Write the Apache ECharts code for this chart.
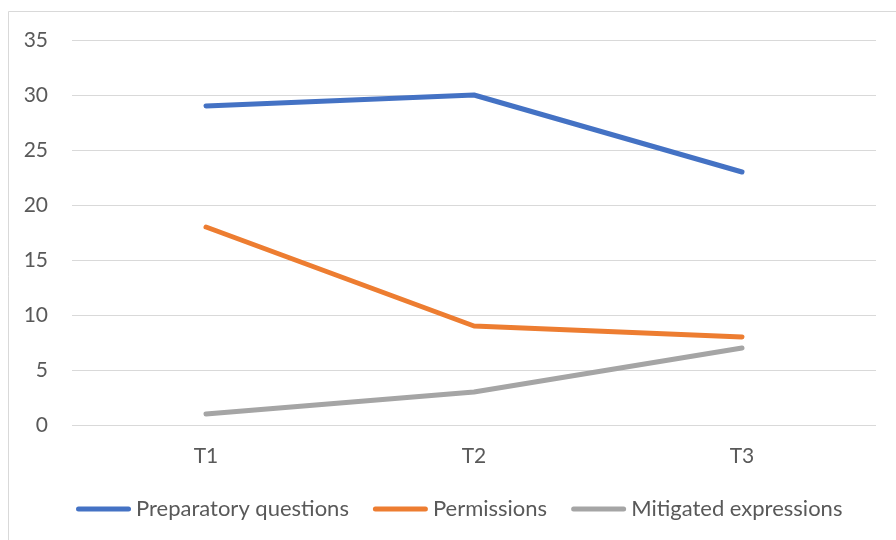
<!DOCTYPE html>
<html>
<head>
<meta charset="utf-8">
<script src="https://cdn.jsdelivr.net/npm/echarts@6/dist/echarts.min.js"></script>
<style>
  html, body { margin: 0; padding: 0; background: #fff; }
  #chart { width: 896px; height: 540px; }
</style>
</head>
<body>
<div id="chart"></div>
<script>
const categories = ['T1', 'T2', 'T3'];
const preparatoryQuestions = [29, 30, 23];
const permissions = [18, 9, 8];
const mitigatedExpressions = [1, 3, 7];
const seriesNames = ['Preparatory questions', 'Permissions', 'Mitigated expressions'];
const seriesColors = ['#4472C4', '#ED7D31', '#A5A5A5'];

const font = 'Lato, "Open Sans", sans-serif';
const textColor = '#595959';

function lineSeries(name, data, color) {
  return {
    name: name,
    type: 'line',
    data: data,
    symbol: 'none',
    color: color,
    lineStyle: { width: 5, color: color, cap: 'round', join: 'round' }
  };
}

const chart = echarts.init(document.getElementById('chart'), null, { renderer: 'canvas' });
chart.setOption({
  animation: false,
  backgroundColor: '#fff',
  graphic: [{
    type: 'rect',
    shape: { x: 8.5, y: 11.5, width: 900, height: 540 },
    style: { fill: 'none', stroke: '#D9D9D9', lineWidth: 1 },
    silent: true
  }],
  grid: { left: 72, right: 20, top: 40, bottom: 115, containLabel: false },
  xAxis: {
    type: 'category',
    data: categories,
    boundaryGap: true,
    axisLine: { show: false },
    axisTick: { show: false },
    axisLabel: { color: textColor, fontFamily: font, fontSize: 21, margin: 21 }
  },
  yAxis: {
    type: 'value',
    min: 0,
    max: 35,
    interval: 5,
    axisLine: { show: false },
    axisTick: { show: false },
    splitLine: { lineStyle: { color: '#D9D9D9', width: 1 } },
    axisLabel: { color: textColor, fontFamily: font, fontSize: 21, margin: 24 }
  },
  legend: {
    bottom: 20,
    left: 76,
    padding: 0,
    itemWidth: 55,
    itemHeight: 5,
    itemGap: 24,
    icon: 'path://M2.5,0 H52.5 A2.5,2.5 0 0 1 52.5,5 H2.5 A2.5,2.5 0 0 1 2.5,0 Z',
    textStyle: { color: textColor, fontFamily: font, fontSize: 22, padding: [0, 0, 0, 0] },
    data: seriesNames
  },
  series: [
    lineSeries(seriesNames[0], preparatoryQuestions, seriesColors[0]),
    lineSeries(seriesNames[1], permissions, seriesColors[1]),
    lineSeries(seriesNames[2], mitigatedExpressions, seriesColors[2])
  ]
});
</script>
</body>
</html>
